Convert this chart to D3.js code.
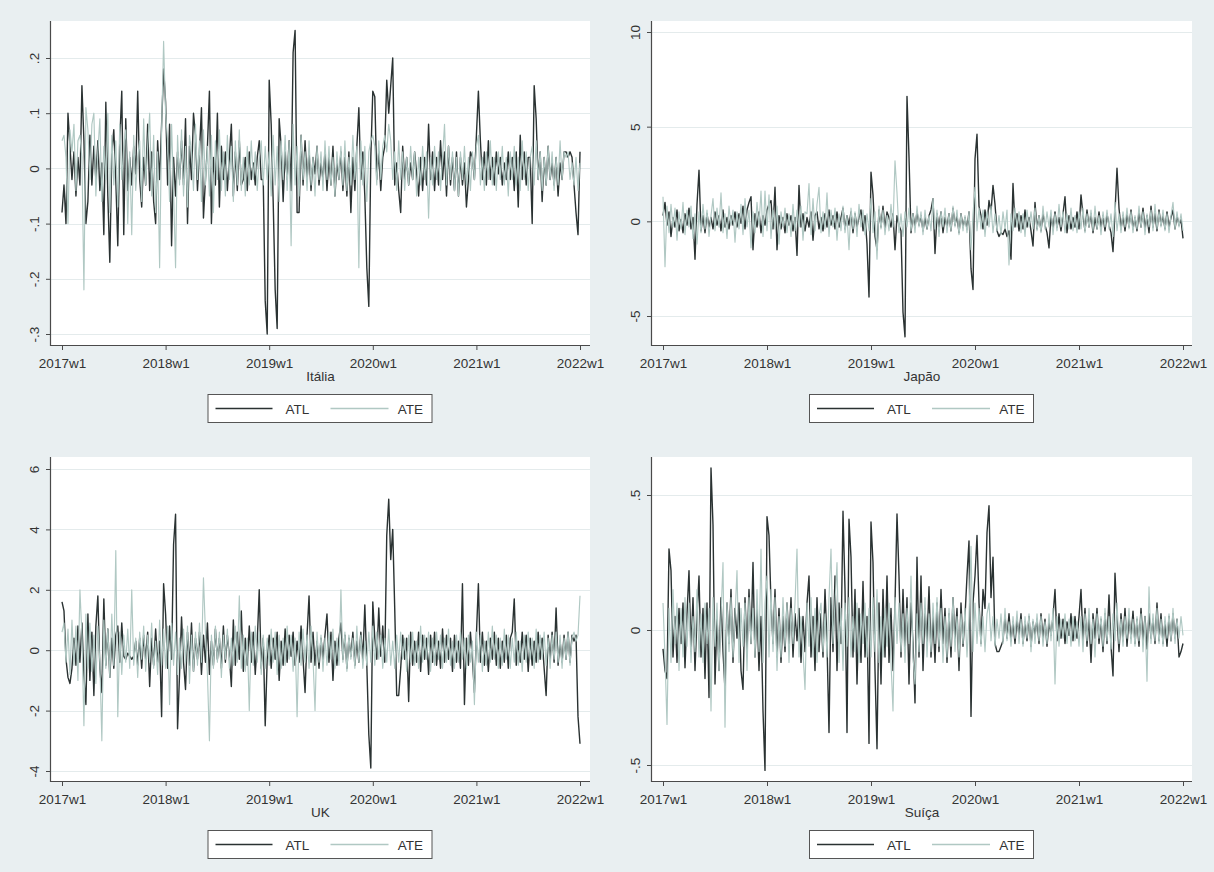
<!DOCTYPE html>
<html><head><meta charset="utf-8">
<script src="https://cdn.jsdelivr.net/npm/d3@7"></script>
<style>
body{margin:0;background:#e9eff1;}
svg{display:block;}
text{font-family:"Liberation Sans",Arial,Helvetica,sans-serif;fill:#333;}
</style>
</head><body>
<svg id="chart" width="1214" height="872"></svg>
<script>
// ---------- DATA (weekly, 2017w1 .. 2022w1 => 261 weeks) ----------
const weekTicks = [0, 52, 104, 156, 208, 260];
const weekLabels = ["2017w1", "2018w1", "2019w1", "2020w1", "2021w1", "2022w1"];
const seriesNames = ["ATL", "ATE"];

const italiaTicks = [.2, .1, 0, -.1, -.2, -.3];
const italiaTickLabels = [".2", ".1", "0", "-.1", "-.2", "-.3"];
const japaoTicks = [10, 5, 0, -5];
const japaoTickLabels = ["10", "5", "0", "-5"];
const ukTicks = [6, 4, 2, 0, -2, -4];
const ukTickLabels = ["6", "4", "2", "0", "-2", "-4"];
const suicaTicks = [.5, 0, -.5];
const suicaTickLabels = [".5", "0", "-.5"];

const italiaATL = [
-.08,-.03,-.1,.1,.04,-.02,.03,-.05,.02,-.03,.15,.05,-.1,-.06,.06,-.03,.04,-.02,.05,-.04,.01,-.12,.12,-.05,-.17,.03,.07,-.02,-.14,.05,.14,-.12,.09,-.04,.02,-.03,.04,-.01,.14,-.02,-.07,.02,-.03,.08,-.04,.03,-.06,-.1,.05,-.02,.08,.18,
.12,-.03,.08,-.14,.02,-.05,.03,-.02,.05,-.03,.09,-.1,.04,-.02,.1,.06,-.04,.03,.11,-.09,-.02,.04,.14,-.1,.02,-.03,.1,-.07,.04,-.02,.03,-.04,.02,.08,-.05,.03,-.04,.05,-.03,-.02,.02,-.04,.03,-.02,.01,-.03,.02,.05,-.02,-.02,-.24,-.3,
.16,.08,-.06,-.22,-.29,.09,.04,-.06,.03,-.02,.05,-.04,.21,.25,-.08,-.08,.06,-.03,.05,-.02,.03,-.04,.02,-.01,.04,-.03,.01,-.02,.03,-.04,.02,-.03,.04,-.05,.01,-.02,.03,-.04,.02,-.05,.03,-.08,.02,-.04,.04,.11,-.02,.03,-.05,-.18,-.25,.02,
.14,.13,-.02,.03,-.04,.02,.04,.16,.1,.15,.2,-.03,.01,-.04,-.08,.04,-.02,.02,-.03,.01,-.02,.03,-.01,-.05,.02,-.04,.02,-.03,.08,-.02,.03,-.04,.02,-.03,.05,-.02,.03,-.05,.04,-.03,.02,-.04,.03,-.05,.02,-.03,.01,-.07,-.02,.03,.02,-.02,
.06,.14,.05,-.02,.03,-.03,.05,-.02,.02,-.03,.03,-.01,.02,-.03,.01,-.02,.03,-.02,.02,-.04,.03,-.07,.06,-.02,.03,-.03,.02,.02,-.1,.15,.09,-.02,.03,-.06,.02,-.03,.04,-.02,.01,-.03,.02,-.05,.01,-.02,.03,.03,.02,.03,.02,-.03,-.08,-.12,.03
];
const italiaATE = [
.05,.06,.02,-.1,.07,.03,.08,-.04,.05,.06,.02,-.22,.11,.07,-.02,.08,.1,-.05,.03,.09,-.06,.04,-.02,.1,-.08,.06,-.03,.05,-.07,.08,-.02,.04,.07,-.1,.03,-.12,.06,-.04,.02,.05,-.06,.09,-.03,.04,.1,-.05,.06,-.08,.03,-.18,.07,.23,
.1,.05,-.06,.08,-.04,-.18,.06,-.03,.07,-.05,.04,-.07,.06,.03,-.04,.08,-.02,.05,-.06,.07,-.03,.04,-.05,.06,-.08,.05,-.02,.07,-.04,.03,-.05,.06,-.02,.04,-.06,.05,-.03,.07,-.04,.02,-.05,.04,-.03,.05,-.02,.03,-.04,.02,.05,-.03,.04,-.02,
.03,-.05,.06,-.03,.04,-.06,.05,-.02,.06,-.04,.05,-.14,.08,-.03,.04,-.05,.06,-.02,.03,-.04,.05,-.03,.02,-.05,.04,-.02,.03,-.04,.05,-.02,.04,-.03,.02,-.05,.03,-.02,.04,-.03,.05,-.04,.02,-.03,.06,-.02,.04,-.18,.05,-.03,.04,-.06,.03,.05,
.06,.04,-.03,.05,-.02,.04,.06,.03,.08,.05,-.02,.03,-.04,.05,-.02,.03,-.04,.02,-.03,.04,-.02,.03,-.05,.02,-.03,.04,-.02,.03,-.09,.02,-.03,.04,-.02,.03,-.04,.02,.08,-.03,.04,-.02,.03,-.04,.02,-.05,.03,-.02,.04,-.03,.02,-.04,.03,-.02,
.04,.06,-.03,.02,-.04,.03,-.02,.05,-.03,.02,-.04,.03,-.02,.04,-.03,.02,-.05,.03,-.02,.04,-.03,.02,-.04,.05,-.02,.03,-.04,.02,.04,-.03,.05,-.02,.03,-.04,.02,-.03,.04,-.02,.03,-.04,.02,-.03,.05,-.02,.03,.02,.03,-.02,.01,-.03,.02,-.04,.01
];

const japaoATL = [
0.3,1,-0.2,0.5,-0.8,0.2,-0.3,0.6,-0.5,0.1,-0.6,0.4,-0.2,0.7,-0.4,0.2,-2,0.9,2.7,-0.5,0.3,-0.6,0.4,-0.3,0.2,-0.4,0.5,-0.2,0.3,-0.5,0.6,-0.3,0.2,-0.4,0.3,-0.2,0.5,-0.3,0.4,-0.1,0.8,-0.4,0.6,1,1.3,-1.5,0.4,-0.3,0.5,-0.6,0.3,-0.2,
0.6,0.9,1.1,-0.4,1.8,-1.5,0.3,-0.4,0.2,-0.6,0.4,-0.2,0.3,-0.5,0.2,-1.8,1.9,-0.3,0.4,-0.5,0.2,-0.3,0.5,-1,0.3,0.5,-0.4,0.2,-0.5,0.4,-0.3,0.6,-0.2,0.3,-0.4,0.5,-0.3,0.2,0.7,-0.4,0.3,-0.2,0.5,-0.6,0.4,-0.3,0.2,0.6,-0.5,0.3,-1.2,-4,
2.6,1.4,-0.8,-1.5,0.6,-0.3,0.8,-0.4,0.5,0.2,-0.3,0.4,-1.5,0.3,-0.2,-0.5,-4.8,-6.1,6.6,3.4,-0.6,0.4,-0.3,0.5,-0.2,0.3,-0.5,0.2,-0.4,0.3,0.6,1.2,-1.7,0.4,-0.3,0.5,-0.6,0.2,-0.3,0.4,-0.5,0.7,-0.2,0.3,-0.6,0.4,-0.3,0.2,-0.4,0.5,-2.5,-3.6,
3.3,4.6,0.8,0.3,-0.4,0.6,-0.2,1.1,0.5,1.9,0.9,-0.5,-0.8,-0.6,-0.7,-0.4,-0.8,-0.5,-2,2,-0.3,0.4,-0.5,0.3,-0.4,0.6,-0.3,0.2,-0.5,-1.3,1,-0.4,0.3,-0.5,0.4,-0.2,-0.6,-1.4,0.3,-0.4,0.5,-0.3,0.2,-0.5,0.4,1.3,-0.6,0.3,-0.4,0.2,-0.3,0.5,
-0.4,1.4,0.3,-0.5,0.6,-0.3,0.4,-0.6,0.2,-0.4,0.5,-0.3,0.3,-0.5,0.4,-0.2,-0.6,-1.6,0.5,2.8,0.7,-0.4,0.3,-0.5,0.4,-0.3,0.6,-0.4,0.2,-0.5,0.5,-0.3,0.7,-0.4,0.3,-0.6,0.8,-0.3,0.4,-0.5,0.6,-0.2,0.3,-0.4,0.5,-0.3,0.2,0.6,-0.4,0.3,-0.2,0.1,-0.9
];
const japaoATE = [
1.3,-2.4,0.8,-0.6,0.9,-0.3,0.7,-1,0.5,-0.4,1,-0.7,0.6,-0.3,0.8,-0.9,0.4,-1.2,0.5,-0.6,0.9,-0.4,0.6,-0.8,0.3,1.2,-0.5,0.7,-0.3,1.5,-0.6,0.4,-0.9,0.8,-0.2,0.6,-1.1,0.5,-0.4,0.9,-0.7,1.2,-0.3,0.6,-1.4,0.5,-0.6,1,-0.2,1.6,-0.8,1.6,
-0.5,1.4,-0.9,0.6,-0.4,0.8,-1.2,0.5,-0.3,0.7,-0.6,0.4,-0.8,0.9,-0.5,0.6,-0.3,0.8,-1,0.5,0.4,2,-0.7,1.2,-0.5,0.9,1.8,-0.6,0.5,-0.4,1.5,-0.8,0.6,-0.3,0.7,-1,0.4,-0.5,0.8,-0.6,0.3,-1.5,0.7,-0.4,0.5,-0.8,0.9,-0.3,0.6,-0.7,0.4,-0.5,
1.2,-0.6,0.5,-2,0.8,-0.4,0.6,-0.7,0.3,-0.5,0.9,-0.3,3.2,1.5,-0.6,0.4,-0.8,0.5,-0.3,0.7,-0.5,0.4,-0.6,0.8,-0.3,0.5,-0.7,0.6,-0.4,0.3,-0.5,1.2,-0.4,0.6,-0.8,0.5,-0.3,0.7,-0.6,0.4,-0.5,0.8,-0.3,0.6,-0.7,0.4,-0.5,0.3,-0.6,0.5,-1.5,0.4,
1.8,-0.5,0.7,-0.4,0.6,-0.8,0.5,-0.3,0.8,-0.6,0.4,-0.5,0.3,-0.7,0.5,-0.4,0.6,-2.3,0.4,-0.5,0.7,-0.3,0.5,-0.6,0.4,-0.8,0.6,-0.3,0.5,-0.4,0.7,-0.5,0.3,-0.6,0.8,-0.4,0.5,-0.3,0.6,-0.7,0.4,-0.5,0.9,-0.3,0.5,-0.6,0.4,-0.4,0.7,-0.5,0.3,-0.6,
0.5,-0.4,0.7,-0.6,0.4,-0.3,0.6,-0.5,0.8,-0.4,0.3,-0.7,0.5,-0.3,0.6,-0.4,0.4,-0.8,1,-0.5,0.4,-0.6,0.5,-0.3,0.7,-0.4,0.5,-0.6,0.3,-0.4,0.8,-0.3,0.5,-0.7,0.4,-0.3,0.6,-0.5,0.9,-0.4,0.5,-0.3,0.6,-0.5,0.4,-0.6,0.3,1,-0.4,0.5,-0.3,0.4,-0.5
];

const ukATL = [
1.6,1.3,-0.3,-0.9,-1.1,-0.6,0.4,-0.5,0.8,-0.4,0.9,-0.8,-1.8,1.2,-1,0.6,-1.5,0.8,1.8,-0.6,-1.4,1.7,-0.5,0.7,-0.9,0.4,-0.6,0.5,0.8,-0.4,0.9,-0.2,-0.3,-0.1,-0.2,-0.3,-0.2,0.3,-0.5,0.4,-0.6,0.5,-0.3,0.6,-1.2,0.4,-0.5,0.7,-0.4,0.3,-2.2,2.2,
1.2,-0.6,0.8,-0.3,3.5,4.5,-2.6,-0.8,1.1,-0.4,-1.3,0.6,-0.5,0.9,-0.7,0.4,-0.3,0.6,-0.8,0.5,-0.4,0.9,-0.8,0.3,-0.5,0.7,-0.3,0.4,-0.6,0.8,-0.4,0.5,-0.2,-1.2,1,-0.5,0.6,-0.3,1.3,-0.7,0.4,-0.5,0.8,-0.4,0.6,-0.8,0.3,2,-0.6,0.4,-2.5,-0.3,
0.5,-0.6,0.4,-0.3,0.6,-1,0.3,-0.5,0.7,-0.4,0.5,-0.2,0.6,-0.5,0.3,-0.4,0.8,-0.3,-1.4,0.5,1.8,-0.4,0.6,-0.5,0.3,-0.6,0.4,-0.3,0.5,1.2,-0.4,0.6,-1,0.3,-0.5,0.4,0.9,-0.3,0.5,-0.6,0.4,-0.2,0.6,-0.5,0.3,-0.4,0.6,-0.3,1.5,-0.5,-2.8,-3.9,
1.6,0.4,-0.3,1.4,-0.2,0.8,-0.4,3.8,5,3,4,1.4,-1.5,-1.5,-0.6,0.5,-0.3,0.4,-1.7,0.6,-0.5,0.3,-0.4,0.6,-0.7,0.5,-0.3,0.4,-0.8,0.5,-0.4,0.6,-0.5,0.3,-0.6,0.7,-0.4,0.5,-0.3,0.4,-0.7,0.5,-0.4,0.3,-0.6,2.2,-1.8,0.4,-0.5,0.6,-0.3,-1.4,
0.5,2.2,-0.4,0.6,-0.5,0.3,-0.7,0.4,-0.3,0.6,-0.5,0.4,-0.6,0.3,-0.4,0.5,-0.6,0.4,0.6,1.7,-0.5,0.3,-0.4,0.6,-0.3,0.5,-0.7,0.4,-0.5,0.3,-0.4,0.6,-0.3,0.4,-0.6,-1.5,0.5,-0.3,0.6,-0.4,1.4,-0.5,0.3,-0.4,0.5,-0.3,0.6,-0.4,0.5,0.3,0.5,-2.2,-3.1
];
const ukATE = [
0.6,0.9,-0.4,0.7,-0.8,1,-0.5,0.8,-1,2,0.5,-2.5,1.2,-0.6,0.9,-0.7,0.5,-1.1,0.8,-0.4,-3,1,-0.6,0.7,-0.9,1.2,-0.5,3.3,-2.2,0.6,-0.8,0.5,-0.4,0.7,-0.6,2,-0.5,0.4,-0.9,0.6,-0.3,0.8,-0.7,0.5,-0.4,0.9,-0.6,0.3,-0.8,1,-0.5,0.7,
-0.6,0.8,-1.8,0.9,-0.5,0.6,-0.8,0.4,-0.6,0.7,-0.4,0.8,-1.1,0.5,-0.7,0.6,-0.5,0.9,-0.4,2.4,0.6,-0.8,-3,0.5,-0.6,0.8,-0.4,0.6,-0.9,0.5,-0.3,0.7,-0.6,0.4,-0.5,0.8,-0.4,1.8,-0.6,0.5,-0.7,0.4,-2,0.6,-0.5,0.8,-0.4,0.6,-0.8,0.5,-0.6,0.4,
-0.5,0.7,-0.4,0.6,-0.8,0.5,-0.6,0.4,-0.5,0.8,-0.3,0.5,-0.7,0.4,-2.2,0.6,-0.5,0.7,-0.4,0.5,-0.6,0.8,-0.3,-2,0.6,-0.4,0.5,-0.7,0.4,-0.5,0.6,-0.3,0.7,-0.6,0.4,-0.5,2,-0.4,0.6,-0.7,0.5,-0.3,0.4,-0.6,0.8,-0.4,0.5,-0.6,0.3,-0.5,0.6,-0.4,
0.8,-0.5,0.6,-0.3,0.5,-0.6,0.4,-0.4,0.7,-0.5,0.3,-0.6,0.5,-0.4,0.6,-0.3,0.4,-0.7,0.5,-0.4,0.6,-0.5,0.3,-0.6,0.8,-0.4,0.5,-0.3,0.6,-0.7,0.4,-0.5,0.6,-0.3,0.5,-0.6,0.4,-0.4,0.7,-0.5,0.3,-0.6,0.5,-0.4,0.6,-0.3,0.4,-0.6,0.5,-0.4,0.3,-1.8,
0.6,-0.4,0.5,-0.7,0.3,-0.5,0.6,-0.4,0.8,-0.3,0.5,-0.6,0.4,-0.5,0.7,-0.3,0.5,-0.6,0.4,-0.4,0.6,-0.5,0.3,-0.7,0.5,-0.4,0.6,-0.3,0.4,-0.6,0.7,-0.4,0.5,-0.3,0.6,-0.5,0.4,-0.6,0.5,-0.3,0.6,-0.4,0.5,-0.6,0.4,-0.3,0.6,-0.5,0.4,0.6,0.3,0.5,1.8
];

const suicaATL = [
-.07,-.15,-.18,.3,.22,-.1,.05,-.12,.08,-.05,.1,-.14,.06,.22,-.08,.12,-.15,.05,.2,-.1,.08,-.18,.1,-.25,.6,.39,-.2,.05,-.15,.12,-.08,-.22,.1,-.05,.15,-.12,.08,-.03,.1,-.15,-.22,.12,-.08,.15,-.05,.25,-.1,.08,-.15,.05,-.3,-.52,
.42,.35,.1,-.05,.15,-.1,.08,-.12,.05,-.08,.1,-.05,.12,-.1,.06,-.04,.08,-.12,.05,-.08,.1,.2,-.1,.05,-.15,.12,-.08,.06,-.1,.15,-.05,-.38,.12,-.08,.2,-.15,.1,-.05,.44,.15,-.38,.41,.27,-.1,.15,-.2,.08,-.12,.18,-.1,.05,-.42,
.4,.25,-.15,-.44,.1,-.2,.15,-.1,.2,-.12,.08,-.15,.1,.43,.2,-.1,.15,-.08,.12,-.2,.1,-.05,-.27,.27,-.1,.2,-.15,.08,-.05,.16,-.1,.05,-.12,.1,-.08,.15,-.05,.08,-.12,.06,-.1,.12,-.04,.08,-.15,.1,-.06,.05,.2,.33,-.32,.1,
.2,.35,.1,-.05,.15,.08,.36,.46,.12,.27,-.05,-.08,-.08,-.06,-.04,.05,-.03,.06,-.04,.03,-.05,.04,-.02,.06,-.05,.03,-.04,.05,-.06,.03,-.02,.04,-.05,.06,-.03,.04,-.06,.03,-.02,.05,.15,-.04,.06,-.03,.04,-.05,.03,-.02,.06,-.04,.05,-.03,
.05,.15,-.04,.08,-.06,.05,-.12,.06,-.03,.08,-.05,.04,-.08,.06,-.05,.13,-.06,-.17,.21,.05,-.08,.06,-.04,.08,-.06,.05,-.03,.07,-.05,.04,-.06,.08,-.04,.05,-.07,.06,-.03,.04,-.05,.1,-.04,.06,-.05,.03,-.06,.05,-.04,.06,-.03,.04,-.1,-.08,-.05
];
const suicaATE = [
.1,-.1,-.35,.08,-.12,.15,-.05,.1,-.15,.08,-.1,.12,-.06,.1,-.12,.05,-.08,.15,-.1,.06,-.12,.1,-.05,.08,-.3,.12,-.06,.1,-.15,.05,.25,-.36,.1,-.08,.12,-.1,.05,.22,-.12,.08,-.06,.1,-.15,.12,-.05,.08,-.1,.15,-.08,.3,-.12,.1,
.2,-.1,.15,-.08,.12,-.15,.05,-.1,.12,-.06,.1,-.12,.08,-.05,.1,.3,-.1,.05,-.08,-.22,.1,-.06,.12,-.1,.08,-.12,.05,.1,-.08,.06,-.1,.12,.3,-.05,.1,.25,-.12,.08,-.15,.1,-.06,.12,-.1,.05,-.08,.1,-.12,.06,-.05,.1,-.1,.08,
-.1,.12,-.08,.15,-.12,.05,-.1,.08,-.06,.1,-.12,-.3,.12,-.05,.1,-.08,.06,-.12,.08,-.05,.2,-.1,-.2,.06,-.08,.1,-.05,.12,-.1,.06,-.08,.1,-.05,.12,-.06,.08,-.12,.05,-.1,.08,-.06,.12,-.08,.05,-.1,.06,-.05,.08,-.1,.05,.31,-.08,
.1,-.05,.08,-.06,.05,-.08,.06,.1,-.04,.05,-.06,.04,-.03,.06,-.05,.08,-.04,.03,-.06,.05,-.03,.07,-.05,.04,-.06,.05,-.03,.06,-.08,.04,-.05,.06,-.04,.05,-.06,.03,-.05,.06,-.04,.08,-.2,.05,-.06,.04,-.03,.06,-.05,.04,-.06,.05,-.04,.03,
-.06,.05,-.08,.06,-.04,.08,-.05,.04,-.1,.06,-.03,.05,-.06,.08,-.04,.05,-.07,.06,-.04,.1,-.05,.04,-.06,.05,-.03,.08,-.05,.04,-.06,.05,-.04,.06,-.08,.05,-.19,.16,-.05,.06,-.04,.08,-.05,.04,-.06,.05,-.03,.06,-.04,.08,-.05,.04,-.03,.05,-.02
];

// ---------- LAYOUT ----------
const COLORS = { bg: "#e9eff1", plot: "#ffffff", grid: "#e4ebec", axis: "#4a4a4a", atl: "#2a3232", ate: "#b0c8c3" };
const panels = [
  { title: "Itália", atl: italiaATL, ate: italiaATE, ticks: italiaTicks, tickLabels: italiaTickLabels,
    px: [51, 590], py: [21, 345], xr: [62, 580], yr: [334, 58] },
  { title: "Japão", atl: japaoATL, ate: japaoATE, ticks: japaoTicks, tickLabels: japaoTickLabels,
    px: [652, 1192], py: [21, 345], xr: [663, 1183], yr: [316, 32] },
  { title: "UK", atl: ukATL, ate: ukATE, ticks: ukTicks, tickLabels: ukTickLabels,
    px: [51, 590], py: [457, 781], xr: [62, 580], yr: [771, 469] },
  { title: "Suíça", atl: suicaATL, ate: suicaATE, ticks: suicaTicks, tickLabels: suicaTickLabels,
    px: [652, 1192], py: [457, 781], xr: [663, 1183], yr: [765, 495] }
];

const svg = d3.select("#chart");
svg.append("rect").attr("width", 1214).attr("height", 872).attr("fill", COLORS.bg);

panels.forEach((p, k) => {
  const g = svg.append("g");
  const x = d3.scaleLinear().domain([weekTicks[0], weekTicks[weekTicks.length - 1]]).range(p.xr);
  const y = d3.scaleLinear().domain([d3.min(p.ticks), d3.max(p.ticks)]).range(p.yr);

  // plot region
  g.append("rect").attr("x", p.px[0]).attr("y", p.py[0])
    .attr("width", p.px[1] - p.px[0]).attr("height", p.py[1] - p.py[0]).attr("fill", COLORS.plot);

  // grid lines
  g.selectAll(".grid").data(p.ticks).enter().append("line")
    .attr("x1", p.px[0]).attr("x2", p.px[1])
    .attr("y1", d => Math.round(y(d)) + 0.5).attr("y2", d => Math.round(y(d)) + 0.5)
    .attr("stroke", COLORS.grid).attr("stroke-width", 1);

  const clipId = "clip" + k;
  g.append("clipPath").attr("id", clipId).append("rect")
    .attr("x", p.px[0]).attr("y", p.py[0]).attr("width", p.px[1] - p.px[0]).attr("height", p.py[1] - p.py[0]);

  const line = d3.line().x((d, i) => x(i)).y(d => y(d));
  const lg = g.append("g").attr("clip-path", `url(#${clipId})`);
  lg.append("path").datum(p.atl).attr("d", line).attr("fill", "none")
    .attr("stroke", COLORS.atl).attr("stroke-width", 1.4).attr("stroke-linejoin", "round");
  lg.append("path").datum(p.ate).attr("d", line).attr("fill", "none")
    .attr("stroke", COLORS.ate).attr("stroke-width", 1.15).attr("stroke-linejoin", "round");

  // x axis
  const xa = g.append("g").attr("transform", `translate(0,${p.py[1]})`)
    .call(d3.axisBottom(x).tickValues(weekTicks).tickFormat((d, i) => weekLabels[i]).tickSize(5).tickSizeOuter(0));
  xa.select(".domain").remove();
  xa.selectAll(".tick line").attr("stroke", COLORS.axis);
  xa.selectAll(".tick text").attr("y", 23).attr("dy", 0)
    .style("font-size", "13.5px").style("font-family", '"Liberation Sans",Arial,sans-serif').attr("fill", "#333");
  g.append("line").attr("x1", p.px[0]).attr("x2", p.px[1]).attr("y1", p.py[1] + 0.5).attr("y2", p.py[1] + 0.5)
    .attr("stroke", COLORS.axis).attr("stroke-width", 1.2);

  // y axis
  const ya = g.append("g").attr("transform", `translate(${p.px[0]},0)`)
    .call(d3.axisLeft(y).tickValues(p.ticks).tickFormat((d, i) => p.tickLabels[i]).tickSize(5).tickSizeOuter(0));
  ya.select(".domain").remove();
  ya.selectAll(".tick line").attr("stroke", COLORS.axis);
  ya.selectAll(".tick text").attr("transform", "rotate(-90)").attr("x", 0).attr("y", -12).attr("dy", 0)
    .attr("text-anchor", "middle")
    .style("font-size", "13.5px").style("font-family", '"Liberation Sans",Arial,sans-serif').attr("fill", "#333");
  g.append("line").attr("x1", p.px[0] - 0.5).attr("x2", p.px[0] - 0.5).attr("y1", p.py[0]).attr("y2", p.py[1] + 1)
    .attr("stroke", COLORS.axis).attr("stroke-width", 1.2);

  // x title
  const cx = (p.px[0] + p.px[1]) / 2;
  g.append("text").attr("x", cx).attr("y", p.py[1] + 36).attr("text-anchor", "middle")
    .style("font-size", "13.5px").text(p.title);

  // legend
  const ly = p.py[1] + 49;
  g.append("rect").attr("x", cx - 112.5).attr("y", ly + 0.5).attr("width", 224).attr("height", 28)
    .attr("fill", "#ffffff").attr("stroke", "#555").attr("stroke-width", 1);
  const my = ly + 14.5;
  g.append("line").attr("x1", cx - 105).attr("x2", cx - 48).attr("y1", my).attr("y2", my)
    .attr("stroke", COLORS.atl).attr("stroke-width", 1.4);
  g.append("text").attr("x", cx - 23).attr("y", my + 5).attr("text-anchor", "middle")
    .style("font-size", "13.5px").text(seriesNames[0]);
  g.append("line").attr("x1", cx + 10).attr("x2", cx + 68).attr("y1", my).attr("y2", my)
    .attr("stroke", COLORS.ate).attr("stroke-width", 1.4);
  g.append("text").attr("x", cx + 90).attr("y", my + 5).attr("text-anchor", "middle")
    .style("font-size", "13.5px").text(seriesNames[1]);
});
</script>
</body></html>
